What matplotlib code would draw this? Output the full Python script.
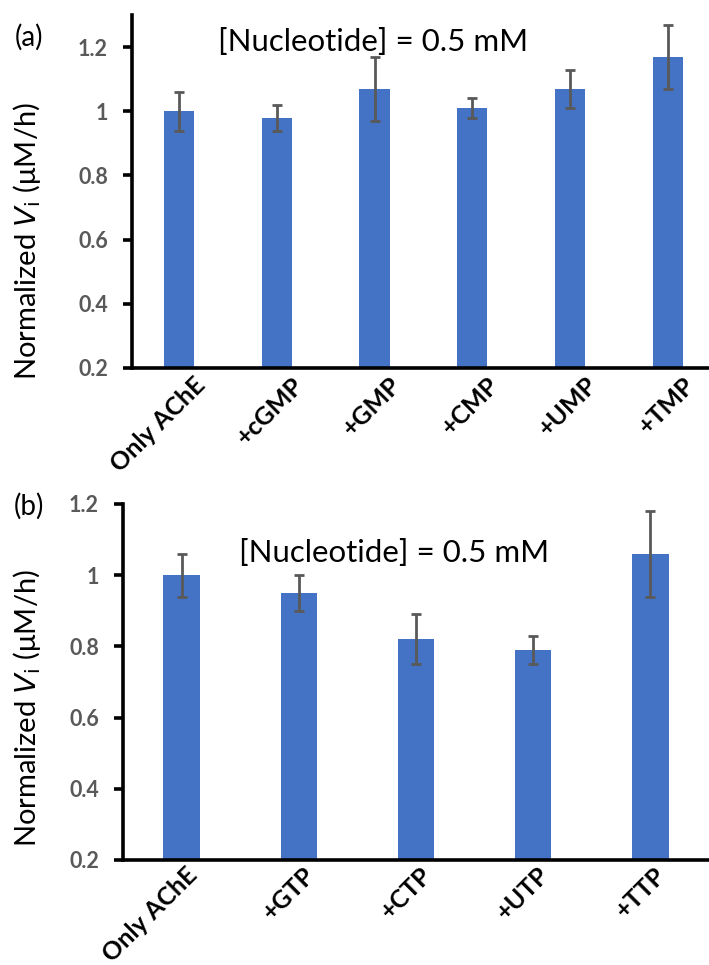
"""Normalized AChE rate with nucleotides: monophosphates (a) and triphosphates (b)."""

import matplotlib

matplotlib.use("Agg")
import matplotlib.pyplot as plt
import matplotlib.transforms as mtransforms


MONO_LABELS = ["Only AChE", "+cGMP", "+GMP", "+CMP", "+UMP", "+TMP"]
MONO_VALUES = [1.00, 0.98, 1.07, 1.01, 1.07, 1.17]
MONO_ERRORS = [0.06, 0.04, 0.10, 0.03, 0.06, 0.10]

TRI_LABELS = ["Only AChE", "+GTP", "+CTP", "+UTP", "+TTP"]
TRI_VALUES = [1.00, 0.95, 0.82, 0.79, 1.06]
TRI_ERRORS = [0.06, 0.05, 0.07, 0.04, 0.12]

Y_TICKS = [0.2, 0.4, 0.6, 0.8, 1.0, 1.2]
Y_TICK_LABELS = ["0.2", "0.4", "0.6", "0.8", "1", "1.2"]

BAR_COLOR = "#4472C4"
ERR_COLOR = "#595959"
TICK_COLOR = "#595959"
FONT = "Lato"
PX = 72 / 100  # points per pixel at dpi 100


def draw_panel(fig, rect, labels, values, errors, xlim, ylim, title_xy, label_dx, label_pad):
    ax = fig.add_axes(rect)
    x = list(range(len(labels)))
    ax.bar(x, values, width=0.31, color=BAR_COLOR, zorder=2)
    ax.errorbar(
        x,
        values,
        yerr=errors,
        fmt="none",
        ecolor=ERR_COLOR,
        elinewidth=2,
        capsize=3.5,
        capthick=2,
        zorder=3,
    )
    ax.set_xlim(*xlim)
    ax.set_ylim(*ylim)

    for side in ("top", "right"):
        ax.spines[side].set_visible(False)
    for side in ("left", "bottom"):
        ax.spines[side].set_linewidth(2.6)
        ax.spines[side].set_color("black")
    ax.tick_params(axis="y", direction="out", length=9 * PX, width=2.6, pad=15 * PX)
    ax.tick_params(axis="x", length=0, pad=label_pad * PX)

    ax.set_yticks(Y_TICKS)
    ax.set_yticklabels(Y_TICK_LABELS, fontsize=15.5, fontweight="bold", color=TICK_COLOR, family=FONT)
    ax.set_xticks(x)
    ax.set_xticklabels(labels, fontsize=18, fontweight="bold", family=FONT,
                       rotation=45, ha="right", va="center", rotation_mode="anchor")
    # shift after tick_params, otherwise the label transform gets reset
    shift = mtransforms.ScaledTranslation(label_dx / 100, 0, fig.dpi_scale_trans)
    for lab in ax.get_xticklabels():
        lab.set_transform(lab.get_transform() + shift)

    ax.text(title_xy[0], title_xy[1], "[Nucleotide] = 0.5 mM", transform=fig.transFigure,
            ha="center", va="center", fontsize=22.5, family=FONT)
    return ax


fig = plt.figure(figsize=(7.09, 9.65), dpi=100)

draw_panel(
    fig,
    [132 / 709, 1 - 368 / 965, 577 / 709, 353 / 965],
    MONO_LABELS, MONO_VALUES, MONO_ERRORS,
    xlim=(-0.48, 5.42), ylim=(0.2, 1.3),
    title_xy=(373 / 709, 1 - 42 / 965), label_dx=23, label_pad=13,
)
draw_panel(
    fig,
    [123 / 709, 1 - 860 / 965, 586 / 709, 356 / 965],
    TRI_LABELS, TRI_VALUES, TRI_ERRORS,
    xlim=(-0.5, 4.5), ylim=(0.2, 1.2),
    title_xy=(394 / 709, 1 - 553 / 965), label_dx=12, label_pad=11,
)

ylabel = r"Normalized $\mathit{V}_{\mathrm{i}}$ (μM/h)"
fig.text(27 / 709, 1 - 241 / 965, ylabel, rotation=90, ha="center", va="center", fontsize=21, family=FONT)
fig.text(27 / 709, 1 - 708 / 965, ylabel, rotation=90, ha="center", va="center", fontsize=21, family=FONT)

fig.text(29 / 709, 1 - 37 / 965, "(a)", ha="center", va="center", fontsize=20, family=FONT)
fig.text(29 / 709, 1 - 506 / 965, "(b)", ha="center", va="center", fontsize=20, family=FONT)

fig.savefig("out.png", dpi=100)
plt.close(fig)
